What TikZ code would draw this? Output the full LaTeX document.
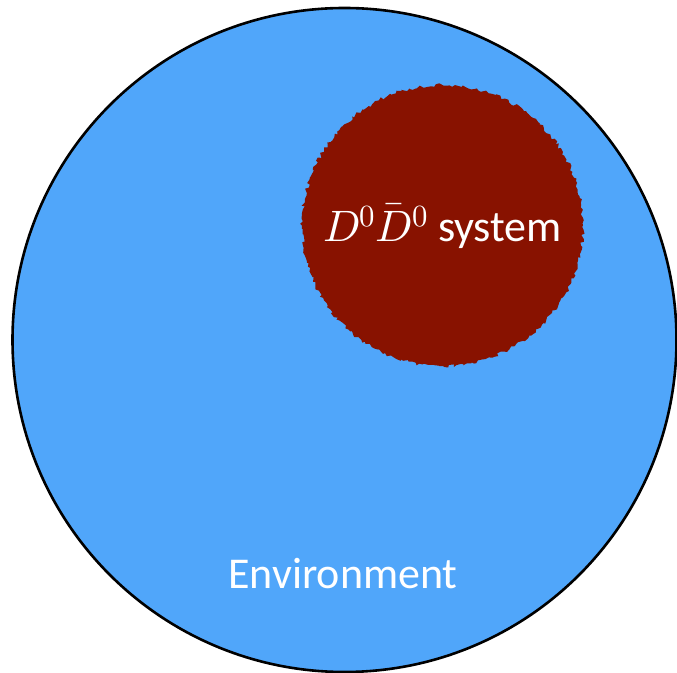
\documentclass[tikz,border=0pt]{standalone}
\usepackage{unicode-math}
\setmathfont{Latin Modern Math}
\setsansfont{Carlito}
\usepackage{tikz}
\usetikzlibrary{decorations.pathmorphing}
\definecolor{envblue}{RGB}{80,166,250}
\definecolor{sysred}{RGB}{136,18,0}

\begin{document}
\begin{tikzpicture}[x=1pt,y=1pt,
    label/.style={text=white,font=\sffamily\fontsize{44}{48}\selectfont,inner sep=0pt}]
    \useasboundingbox (0,0) rectangle (677,672);
    \clip (0,0) rectangle (677,672);
    \pgfmathsetseed{7}
    \filldraw[fill=envblue,draw=black,line width=2.6pt] (344.5,332) circle (332);
    \fill[sysred,decorate,decoration={random steps,segment length=2.5pt,amplitude=1.8pt}]
        (442.5,446.5) circle (140.5);
    \node[label,anchor=base] (sys) at (442.5,430) {$D^0\bar{D}^0$ system};
    \node[label,anchor=base] (env) at (343,84) {Environment};
\end{tikzpicture}
\end{document}
